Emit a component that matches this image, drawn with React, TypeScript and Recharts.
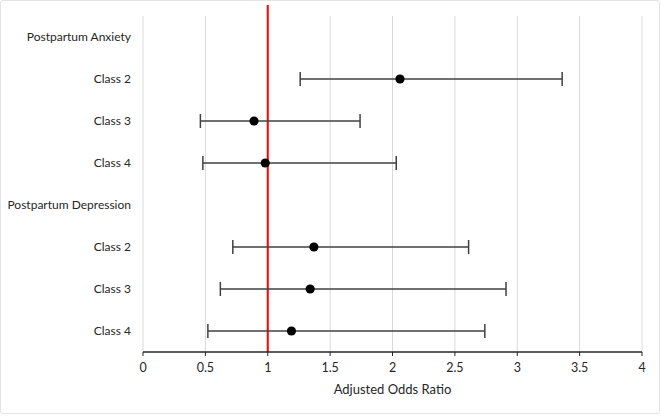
import React from "react"
import { ComposedChart, Scatter, ErrorBar, XAxis, YAxis, CartesianGrid, ReferenceLine, Label } from "recharts"

const rowLabels = [
  "Postpartum Anxiety",
  "Class 2",
  "Class 3",
  "Class 4",
  "Postpartum Depression",
  "Class 2",
  "Class 3",
  "Class 4",
]
const oddsRatio: (number | null)[] = [null, 2.06, 0.89, 0.98, null, 1.37, 1.34, 1.19]
const ciLower: (number | null)[] = [null, 1.26, 0.46, 0.48, null, 0.72, 0.62, 0.52]
const ciUpper: (number | null)[] = [null, 3.36, 1.74, 2.03, null, 2.61, 2.91, 2.74]
const xTicks = [0, 0.5, 1, 1.5, 2, 2.5, 3, 3.5, 4]

const points = rowLabels
  .map((_, i) => ({
    row: i,
    or: oddsRatio[i],
    err: oddsRatio[i] == null ? [0, 0] : [oddsRatio[i]! - ciLower[i]!, ciUpper[i]! - oddsRatio[i]!],
  }))
  .filter((d) => d.or != null)

const font = "Lato, 'Open Sans', sans-serif"
const textColor = "#262626"

function Dot(props: any) {
  const { cx, cy } = props
  if (cx == null || cy == null) return null
  return <circle cx={cx} cy={cy} r={4.6} fill="#000" />
}

function RedLine(props: any) {
  const { x1, x2, y1, y2 } = props
  const top = Math.min(y1, y2) - 11
  const bottom = Math.max(y1, y2)
  return <line x1={x1} x2={x2} y1={top} y2={bottom} stroke="#ff0000" strokeWidth={2} />
}

function RowTick(props: any) {
  const { x, y, payload } = props
  return (
    <text x={x} y={y} dy={4} textAnchor="end" fill={textColor} fontSize={12} fontFamily={font}>
      {rowLabels[payload.value] ?? ""}
    </text>
  )
}

export default function App() {
  return (
    <div style={{ position: "absolute", left: 0, top: 0, width: 661, height: 416, background: "#fff" }}>
      <div
        style={{
          position: "absolute",
          left: 0,
          top: 0,
          width: 660,
          height: 414,
          border: "1px solid #e3e3e3",
          borderRadius: 3,
          boxSizing: "border-box",
        }}
      />
      <div style={{ position: "absolute", left: 0, top: 0 }}>
        <ComposedChart width={661} height={416} margin={{ top: 16, right: 19, bottom: 14, left: 0 }}>
          <CartesianGrid horizontal={false} stroke="#d9d9d9" strokeWidth={1} />
          <XAxis
            type="number"
            dataKey="or"
            domain={[0, 4]}
            ticks={xTicks}
            height={50}
            axisLine={{ stroke: "#262626", strokeWidth: 1.5 }}
            tickLine={{ stroke: "#262626" }}
            tickSize={4}
            tickMargin={7}
            tick={{ fill: textColor, fontSize: 12.5, fontFamily: font }}
          >
            <Label
              value="Adjusted Odds Ratio"
              position="insideBottom"
              offset={8}
              style={{ fill: textColor, fontSize: 13, fontFamily: font }}
            />
          </XAxis>
          <YAxis
            type="number"
            dataKey="row"
            domain={[-0.5, 7.5]}
            ticks={rowLabels.map((_, i) => i)}
            interval={0}
            reversed
            width={143}
            axisLine={false}
            tickLine={false}
            tickSize={0}
            tickMargin={12}
            tick={<RowTick />}
          />
          <ReferenceLine x={1} shape={RedLine} />
          <Scatter data={points} shape={Dot} isAnimationActive={false}>
            <ErrorBar dataKey="err" direction="x" width={7} stroke="#404040" strokeWidth={1.5} />
          </Scatter>
        </ComposedChart>
      </div>
    </div>
  )
}
